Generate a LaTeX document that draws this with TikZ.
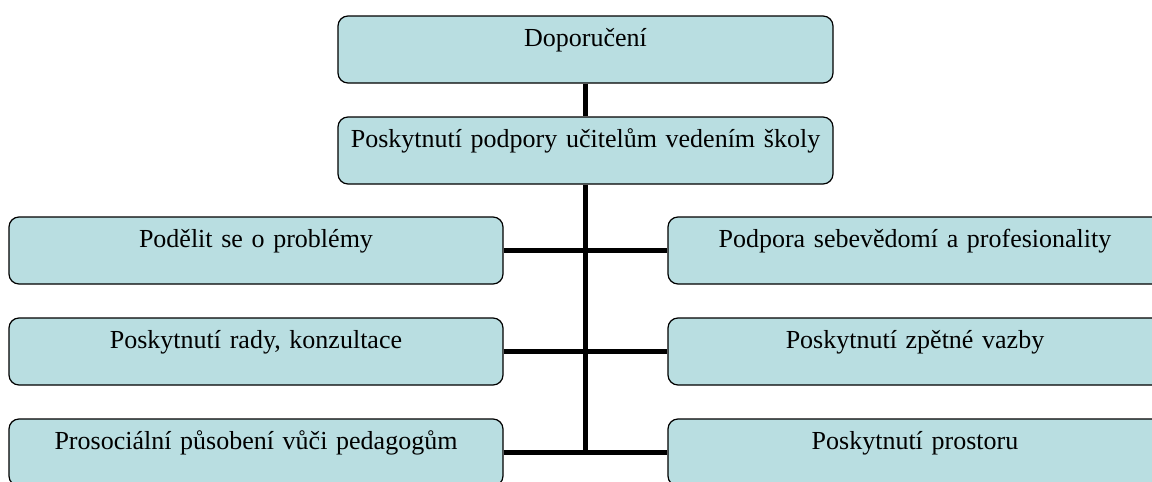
\documentclass[tikz,border=0pt]{standalone}
\usepackage{fontspec}
\setmainfont{Liberation Serif}
\definecolor{boxfill}{RGB}{185,222,225}
\begin{document}
\begin{tikzpicture}[x=1pt,y=-1pt,
  card/.style={draw=black, line width=1.2pt, fill=boxfill, rounded corners=10pt,
    inner sep=0pt, text height=30pt, text depth=37pt, align=center,
    font=\fontsize{26pt}{30pt}\selectfont},
  wide/.style={card, text width=495pt},
  side/.style={card, text width=494pt},
  link/.style={line width=5.5pt, black}]
\useasboundingbox (0,0) rectangle (1152,482);
\node[wide] (rec) at (585.5,49.5) {Doporučení};
\node[wide] (sup) at (585.5,150.5) {Poskytnutí podpory učitelům vedením školy};
\node[side] (l1) at (256,250.5) {Podělit se o problémy};
\node[side] (l2) at (256,351.5) {Poskytnutí rady, konzultace};
\node[side] (l3) at (256,452.5) {Prosociální působení vůči pedagogům};
\node[side] (r1) at (915,250.5) {Podpora sebevědomí a profesionality};
\node[side] (r2) at (915,351.5) {Poskytnutí zpětné vazby};
\node[side] (r3) at (915,452.5) {Poskytnutí prostoru};
\draw[link] (rec.south) -- (sup.north);
\draw[link] (sup.south) -- ([yshift=2pt]sup.south |- l3.east);
\draw[link] (l1.east) -- (r1.west);
\draw[link] (l2.east) -- (r2.west);
\draw[link] (l3.east) -- (r3.west);
\end{tikzpicture}
\end{document}
